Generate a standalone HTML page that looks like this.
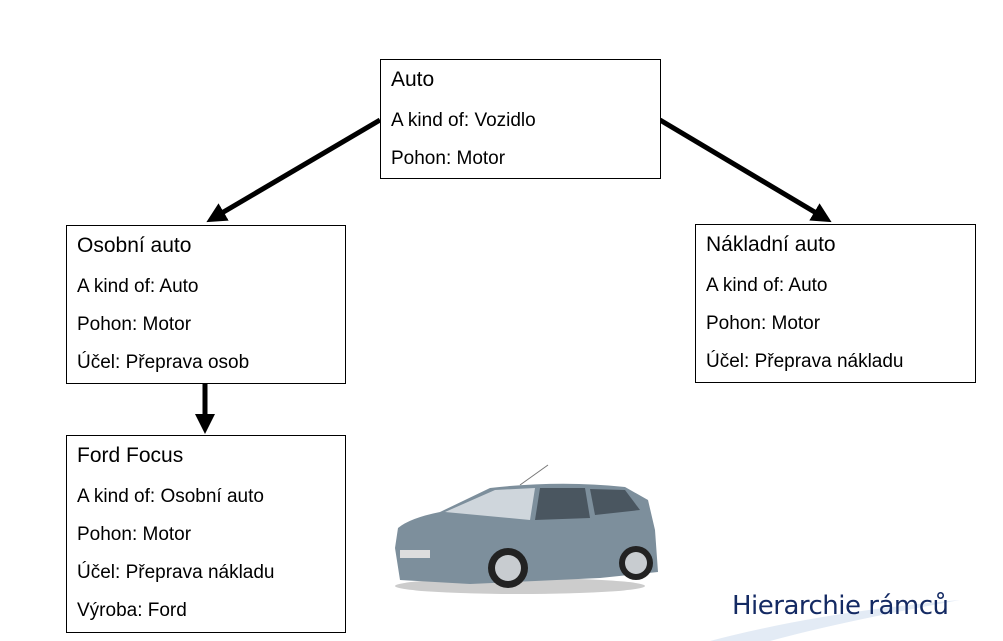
<!DOCTYPE html>
<html><head><meta charset="utf-8"><style>
body{margin:0;width:1003px;height:641px;background:#fff;position:relative;overflow:hidden;font-family:"Liberation Sans",Arial,sans-serif;}
.b{position:absolute;border:1px solid #000;background:#fff;box-sizing:border-box;}
.b div{position:absolute;left:10px;font-size:19px;color:#000;white-space:nowrap;}
.b div.t{font-size:21px;}
</style></head><body>
<svg width="1003" height="641" style="position:absolute;left:0;top:0">
<defs><marker id="a" markerWidth="4" markerHeight="4" refX="2" refY="2" orient="auto" markerUnits="strokeWidth"><path d="M0,0 L4,2 L0,4 Z" fill="#000"/></marker></defs>
<line x1="380" y1="120" x2="215" y2="217" stroke="#000" stroke-width="5" marker-end="url(#a)"/>
<line x1="660" y1="120" x2="823" y2="217" stroke="#000" stroke-width="5" marker-end="url(#a)"/>
<line x1="205" y1="383" x2="205" y2="424" stroke="#000" stroke-width="5" marker-end="url(#a)"/>
<path d="M710,641 Q820,612 960,600 Q840,622 770,641 Z" fill="#e3ebf5"/>
<g>
<ellipse cx="520" cy="586" rx="125" ry="8" fill="#ccc"/>
<line x1="520" y1="485" x2="548" y2="465" stroke="#777" stroke-width="1"/>
<path d="M395,548 L398,528 Q410,518 440,512 L490,488 Q560,480 625,487 L648,500 L655,530 L658,572 L600,578 L470,584 L400,580 Z" fill="#7d8f9c"/>
<path d="M445,512 L495,490 L535,488 L530,520 Z" fill="#cfd6dc"/>
<path d="M540,488 L585,488 L590,518 L535,520 Z" fill="#4a5660"/>
<path d="M590,489 L625,490 L640,510 L595,515 Z" fill="#4a5660"/>
<circle cx="508" cy="568" r="20" fill="#222"/><circle cx="508" cy="568" r="13" fill="#c8ccd0"/>
<circle cx="636" cy="563" r="17" fill="#222"/><circle cx="636" cy="563" r="11" fill="#c8ccd0"/>
<rect x="400" y="550" width="30" height="8" fill="#ddd"/>
</g>
</svg>
<div class="b" style="left:380px;top:59px;width:281px;height:120px">
<div class="t" style="top:8px">Auto</div><div style="top:50px">A kind of: Vozidlo</div><div style="top:88px">Pohon: Motor</div></div>
<div class="b" style="left:66px;top:225px;width:280px;height:159px">
<div class="t" style="top:8px">Osobní auto</div><div style="top:50px">A kind of: Auto</div><div style="top:88px">Pohon: Motor</div><div style="top:126px">Účel: Přeprava osob</div></div>
<div class="b" style="left:695px;top:224px;width:281px;height:159px">
<div class="t" style="top:8px">Nákladní auto</div><div style="top:50px">A kind of: Auto</div><div style="top:88px">Pohon: Motor</div><div style="top:126px">Účel: Přeprava nákladu</div></div>
<div class="b" style="left:66px;top:435px;width:280px;height:198px">
<div class="t" style="top:8px">Ford Focus</div><div style="top:50px">A kind of: Osobní auto</div><div style="top:88px">Pohon: Motor</div><div style="top:126px">Účel: Přeprava nákladu</div><div style="top:164px">Výroba: Ford</div></div>
<div style="position:absolute;left:732px;top:591px;font-size:26px;color:#142a63;font-family:'DejaVu Sans','Liberation Sans',sans-serif;letter-spacing:-0.5px">Hierarchie rámců</div>
</body></html>
